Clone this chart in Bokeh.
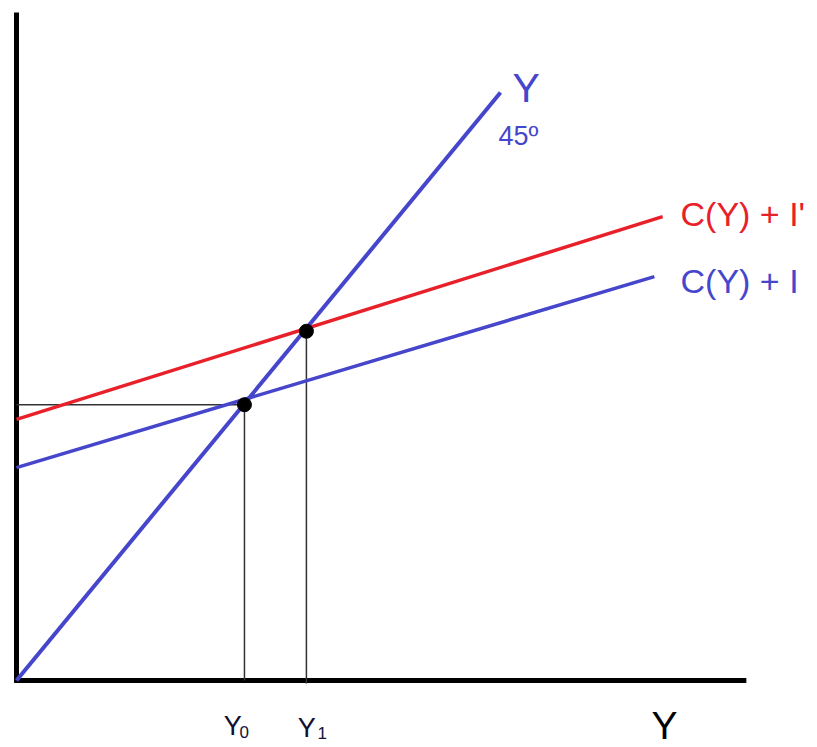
from bokeh.plotting import figure
from bokeh.models import Range1d
from bokeh.core.properties import value
from bokeh.embed import file_html
from bokeh.resources import INLINE

# --- data (model units) ---
line45_x = [0.0, 10.0]
line45_y = [0.0, 10.0]
ae_x = [0.0, 13.18]      # C(Y) + I
ae_y = [3.62, 6.87]
ae2_x = [0.0, 13.35]     # C(Y) + I'
ae2_y = [4.44, 7.89]
eq_x = [4.71, 5.99]      # Y0, Y1
eq_y = [4.69, 5.94]
yaxis_top = 11.36
xaxis_right = 15.08

BLUE = "#4646cc"
RED = "#e8202a"
FONT = value("Liberation Sans")

p = figure(width=817, height=747, output_backend="svg", toolbar_location=None,
           x_range=Range1d(-0.3306, 16.550), y_range=Range1d(-1.1395, 11.565),
           min_border=0)
p.axis.visible = False
p.grid.visible = False
p.outline_line_color = None

# axes
p.line([0, 0], [-0.04, yaxis_top], line_color="black", line_width=5)
p.line([-0.04, xaxis_right], [0, 0], line_color="black", line_width=5)

# guide lines
p.line([0, eq_x[0]], [eq_y[0], eq_y[0]], line_color="#333333", line_width=1.5)
p.line([eq_x[0], eq_x[0]], [0, eq_y[0]], line_color="#333333", line_width=1.5)
p.line([eq_x[1], eq_x[1]], [-0.05, eq_y[1]], line_color="#333333", line_width=1.5)

# curves
p.line(ae2_x, ae2_y, line_color=RED, line_width=3.5)
p.line(ae_x, ae_y, line_color=BLUE, line_width=3.5)
p.line(line45_x, line45_y, line_color=BLUE, line_width=4)

# equilibrium points
p.scatter(eq_x, eq_y, size=14, color="black")

# labels (y = vertical centre of capitals)
p.text([10.25], [10.08], text=["Y"], text_color=BLUE, text_font=FONT,
       text_font_size="41px", text_baseline="middle")
p.text([9.96], [9.26], text=["45º"], text_color=BLUE, text_font=FONT,
       text_font_size="27px", text_baseline="middle")
p.text([13.72], [7.93], text=["C(Y) + I'"], text_color=RED, text_font=FONT,
       text_font_size="34px", text_baseline="middle")
p.text([13.72], [6.80], text=["C(Y) + I"], text_color=BLUE, text_font=FONT,
       text_font_size="34px", text_baseline="middle")
p.text([4.28, 5.81], [-0.77, -0.80], text=["Y", "Y"], text_color="#111133",
       text_font=FONT, text_font_size="27px", text_baseline="middle")
p.text([4.61, 6.22], [-0.88, -0.89], text=["0", "1"], text_color="#111133",
       text_font=FONT, text_font_size="17px", text_baseline="middle")
p.text([13.12], [-0.76], text=["Y"], text_color="black", text_font=FONT,
       text_font_size="39px", text_baseline="middle")

open("out.html", "w").write(file_html(p, INLINE))
